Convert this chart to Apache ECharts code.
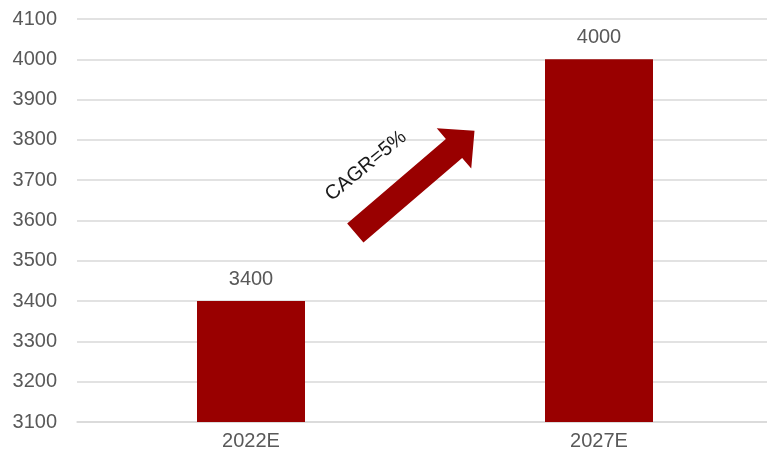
<!DOCTYPE html>
<html>
<head>
<meta charset="utf-8">
<script src="https://cdn.jsdelivr.net/npm/echarts@6/dist/echarts.min.js"></script>
<style>
  html, body { margin: 0; padding: 0; background: #fff; }
  #chart { width: 767px; height: 459px; }
</style>
</head>
<body>
<div id="chart"></div>
<script>
// Market size estimates by year
const categories = ['2022E', '2027E'];
const values = [3400, 4000];
const cagrText = 'CAGR=5%';

const yMin = 3100;
const yMax = 4100;
const yStep = 100;

const barColor = '#990000';
const textColor = '#595959';
const gridColor = '#d9d9d9';
const font = '"Liberation Sans", Arial, sans-serif';

// Growth arrow, drawn along +x then rotated into place
const angle = 40.6 * Math.PI / 180;
const shaftLen = 130, shaftHalf = 12.5, headLen = 27, headHalf = 26.5;
const arrowShape = [
  [0, -shaftHalf], [shaftLen, -shaftHalf], [shaftLen, -headHalf],
  [shaftLen + headLen, 0],
  [shaftLen, headHalf], [shaftLen, shaftHalf], [0, shaftHalf]
];

const chart = echarts.init(document.getElementById('chart'));
chart.setOption({
  animation: false,
  backgroundColor: '#fff',
  grid: { left: 77, right: -6, top: 19, bottom: 37, outerBoundsMode: 'none', containLabel: false },
  xAxis: {
    type: 'category',
    data: categories,
    axisLine: { show: true, lineStyle: { color: gridColor, width: 1.5 } },
    axisTick: { show: false },
    axisLabel: { color: textColor, fontSize: 20, fontFamily: font, margin: 9 }
  },
  yAxis: {
    type: 'value',
    min: yMin,
    max: yMax,
    interval: yStep,
    axisLine: { show: false },
    axisTick: { show: false },
    splitLine: { lineStyle: { color: gridColor, width: 1.5 } },
    axisLabel: {
      color: textColor, fontSize: 20, fontFamily: font, margin: 20,
      formatter: v => String(v)
    }
  },
  series: [{
    type: 'bar',
    data: values,
    barWidth: 108,
    itemStyle: { color: barColor },
    label: {
      show: true,
      position: 'top',
      distance: 12,
      color: textColor,
      fontSize: 20,
      fontFamily: font
    }
  }],
  graphic: [
    {
      type: 'polygon',
      z: 100,
      x: 355.3,
      y: 233,
      rotation: angle,
      shape: { points: arrowShape },
      style: { fill: barColor }
    },
    {
      type: 'text',
      z: 100,
      x: 366,
      y: 166,
      rotation: 39.5 * Math.PI / 180,
      style: {
        text: cagrText,
        fill: '#1a1a1a',
        font: '20px ' + font,
        align: 'center',
        verticalAlign: 'middle'
      }
    }
  ]
});
</script>
</body>
</html>
